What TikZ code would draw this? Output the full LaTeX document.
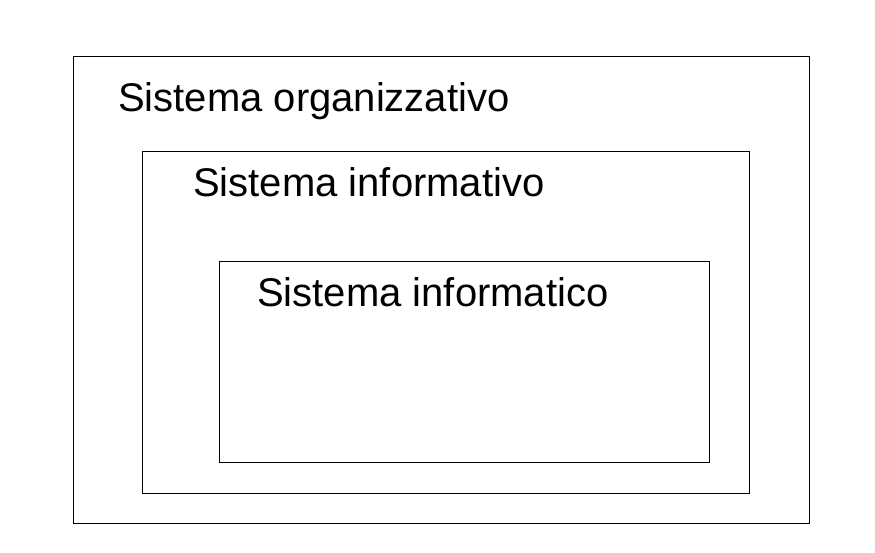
\documentclass[tikz,border=0pt]{standalone}
\usepackage{fontspec}
\setmainfont{Liberation Sans}
\begin{document}
\begin{tikzpicture}[x=1pt,y=-1pt]
        \tikzset{label text/.style={anchor=base west, inner sep=0pt, font=\fontsize{40}{48}\selectfont}}
        \useasboundingbox (0,0) rectangle (875,552);
        \draw[line width=0.9pt] (73,56) rectangle (809,523);
        \draw[line width=0.9pt] (142,151) rectangle (749,493);
        \draw[line width=0.9pt] (219,261) rectangle (709,462);
        \node[label text] (organizzativo) at (118,111) {Sistema organizzativo};
        \node[label text] (informativo) at (193,196) {Sistema informativo};
        \node[label text] (informatico) at (257,306) {Sistema informatico};
    \end{tikzpicture}
\end{document}
